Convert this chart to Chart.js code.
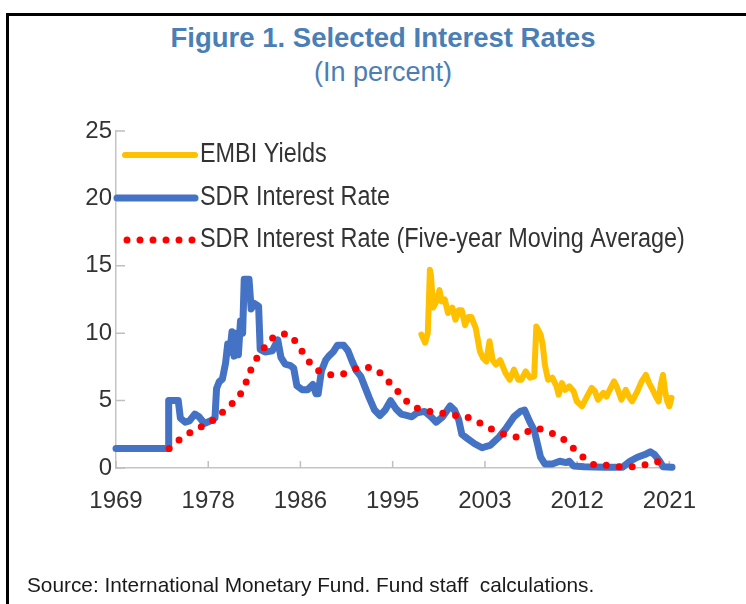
<!DOCTYPE html>
<html>
<head>
<meta charset="utf-8">
<script src="https://cdn.jsdelivr.net/npm/chart.js@4.4.1/dist/chart.umd.min.js"></script>
<style>
  body { margin: 0; background: #fff; width: 746px; height: 604px; overflow: hidden; position: relative; }
  #frame { position: absolute; left: 6px; top: 13px; width: 900px; height: 800px; border-left: 3px solid #000; border-top: 3px solid #000; }
  .txt { position: absolute; white-space: pre; font-family: "Liberation Sans", Arial, sans-serif; line-height: 1; }
  #title { left: 0; width: 766px; text-align: center; top: 24px; font-size: 27.5px; font-weight: bold; color: #4a7eb5; }
  #subtitle { left: 0; width: 766px; text-align: center; top: 59px; font-size: 27px; color: #4a7eb5; }
  #source { left: 27px; top: 575px; font-size: 20.8px; color: #1a1a1a; }
  #chart { position: absolute; left: 0; top: 0; }
</style>
</head>
<body>
<div id="frame"></div>
<div class="txt" id="title">Figure 1. Selected Interest Rates</div>
<div class="txt" id="subtitle">(In percent)</div>
<canvas id="chart" width="746" height="604"></canvas>
<div class="txt" id="source">Source: International Monetary Fund. Fund staff  calculations.</div>
<script>
// axis
const xTickValues = [1969, 1977.67, 1986.33, 1995, 2003.67, 2012.33, 2021];
const xTickLabels = ['1969', '1978', '1986', '1995', '2003', '2012', '2021'];
const yTickValues = [0, 5, 10, 15, 20, 25];

// SDR interest rate (blue)
const sdrYears = [
  1969.0, 1973.9, 1973.95, 1974.85, 1975.05, 1975.5, 1975.9, 1976.4, 1976.8, 1977.3,
  1977.9, 1978.3, 1978.45, 1978.7, 1979.0, 1979.3, 1979.5, 1979.7, 1979.9, 1980.1,
  1980.3, 1980.5, 1980.7, 1980.9, 1981.05, 1981.5, 1981.7, 1982.0, 1982.4, 1982.55,
  1983.0, 1983.7, 1984.2, 1984.5, 1984.9, 1985.4, 1985.7, 1986.0, 1986.5, 1987.0,
  1987.5, 1987.8, 1988.0, 1988.3, 1988.7, 1989.0, 1989.4, 1989.8, 1990.4, 1990.8,
  1991.2, 1991.6, 1992.0, 1992.4, 1992.8, 1993.3, 1993.8, 1994.3, 1994.8, 1995.3,
  1995.8, 1996.3, 1996.8, 1997.3, 1998.0, 1998.6, 1999.1, 1999.7, 2000.4, 2000.8,
  2001.2, 2001.5, 2002.0, 2002.7, 2003.4, 2004.2, 2005.0, 2005.7, 2006.4, 2007.0,
  2007.4, 2007.9, 2008.3, 2008.6, 2008.9, 2009.3, 2010.0, 2010.7, 2011.3, 2011.6,
  2012.0, 2013.0, 2014.0, 2015.0, 2016.0, 2016.6, 2017.3, 2018.0, 2018.7, 2019.2,
  2019.6, 2020.1, 2020.4, 2021.25
];
const sdrRates = [
  1.45, 1.45, 5.0, 5.0, 3.7, 3.4, 3.5, 4.0, 3.8, 3.3,
  3.5, 3.7, 5.9, 6.4, 6.6, 7.8, 9.2, 8.6, 10.1, 8.3,
  10.0, 8.4, 10.9, 10.0, 14.0, 14.0, 11.8, 12.2, 12.0, 8.8,
  8.6, 8.7, 9.5, 8.2, 7.7, 7.6, 7.4, 6.1, 5.8, 5.8,
  6.2, 5.5, 5.5, 7.2, 8.0, 8.3, 8.6, 9.1, 9.1, 8.7,
  7.9, 7.2, 6.8, 6.0, 5.2, 4.3, 3.9, 4.3, 5.0, 4.4,
  4.0, 3.9, 3.8, 4.1, 4.2, 3.8, 3.4, 3.8, 4.6, 4.3,
  3.6, 2.5, 2.2, 1.8, 1.5, 1.7, 2.3, 3.0, 3.8, 4.2,
  4.3, 3.4, 2.8, 1.8, 0.8, 0.3, 0.3, 0.5, 0.4, 0.5,
  0.15, 0.1, 0.08, 0.05, 0.05, 0.05, 0.5, 0.8, 1.0, 1.2,
  1.0, 0.5, 0.1, 0.05
];

// SDR interest rate, five-year moving average (red dots)
const maYears = [
  1974.0, 1974.8, 1975.7, 1976.6, 1977.6, 1978.5, 1979.2, 1980.1, 1980.8, 1981.3,
  1981.7, 1982.2, 1982.9, 1983.6, 1984.6, 1985.5, 1986.1, 1986.8, 1987.4, 1988.3,
  1989.3, 1990.4, 1991.5, 1992.5, 1993.5, 1994.2, 1995.0, 1995.8, 1996.5, 1997.4,
  1998.4, 1999.5, 2000.6, 2001.6, 2002.6, 2003.5, 2004.5, 2005.5, 2006.6, 2007.5,
  2008.6, 2009.6, 2010.7, 2011.5, 2012.3, 2013.1, 2014.0, 2015.1, 2016.3, 2017.4,
  2018.5, 2019.5, 2020.7
];
const maRates = [
  1.44, 2.0, 2.5, 2.9, 3.3, 3.7, 4.3, 4.9, 5.6, 6.5,
  7.35, 8.1, 8.9, 9.6, 10.0, 9.8, 9.1, 8.3, 7.6, 7.05,
  6.9, 7.0, 7.35, 7.5, 7.3, 6.75, 6.1, 5.4, 4.8, 4.4,
  4.2, 4.1, 3.9, 3.9, 3.6, 3.2, 2.8, 2.5, 2.3, 2.65,
  2.95, 2.7, 2.35, 1.87, 1.2, 0.68, 0.2, 0.2, 0.09, 0.09,
  0.2, 0.43, 0.55
];

// EMBI yields (yellow)
const embiYears = [
  1997.7, 1998.05, 1998.3, 1998.5, 1998.6, 1998.8, 1999.1, 1999.4, 1999.6, 1999.9,
  2000.2, 2000.6, 2000.9, 2001.2, 2001.5, 2001.8, 2002.1, 2002.4, 2002.8, 2003.2,
  2003.5, 2003.8, 2004.1, 2004.4, 2004.7, 2005.1, 2005.6, 2006.0, 2006.4, 2006.8,
  2007.1, 2007.5, 2007.9, 2008.3, 2008.5, 2008.9, 2009.1, 2009.3, 2009.6, 2010.0,
  2010.4, 2010.6, 2010.9, 2011.2, 2011.6, 2012.0, 2012.3, 2012.8, 2013.2, 2013.7,
  2014.0, 2014.3, 2014.8, 2015.1, 2015.4, 2015.8, 2016.1, 2016.5, 2016.9, 2017.2,
  2017.5, 2018.0, 2018.4, 2018.8, 2019.1, 2019.5, 2019.8, 2020.0, 2020.2, 2020.4,
  2020.6, 2020.8, 2021.0, 2021.2
];
const embiYields = [
  9.9, 9.3, 10.0, 14.7, 14.3, 11.9, 12.35, 13.2, 12.35, 12.5,
  11.5, 11.9, 11.0, 11.7, 11.7, 10.6, 11.2, 11.2, 10.4, 8.65,
  8.15, 7.9, 9.4, 8.0, 7.67, 8.0, 7.05, 6.55, 7.3, 6.55,
  6.55, 7.17, 6.7, 6.8, 10.5, 9.9, 9.15, 7.67, 6.55, 6.7,
  6.06, 5.44, 6.3, 5.8, 6.06, 5.7, 4.95, 4.58, 5.2, 5.94,
  5.7, 5.07, 5.57, 5.3, 5.8, 6.43, 5.94, 5.07, 5.8, 5.3,
  4.95, 5.7, 6.43, 6.9, 6.3, 5.7, 5.2, 4.95, 6.2, 6.9,
  5.7, 4.95, 4.58, 5.2
];

const FONT = '"Liberation Sans", Arial, sans-serif';
const toPoints = (xs, ys) => xs.map((x, i) => ({ x: x, y: ys[i] }));

// small tick marks drawn inside the plot, like Excel
const insideTicks = {
  id: 'insideTicks',
  beforeDatasetsDraw(chart) {
    const { ctx, chartArea: a, scales: { x, y } } = chart;
    ctx.save();
    ctx.strokeStyle = '#bfbfbf';
    ctx.lineWidth = 1.5;
    ctx.beginPath();
    yTickValues.forEach(v => {
      const py = y.getPixelForValue(v);
      ctx.moveTo(a.left, py);
      ctx.lineTo(a.left + 9, py);
    });
    xTickValues.forEach(v => {
      const px = x.getPixelForValue(v);
      ctx.moveTo(px, a.bottom);
      ctx.lineTo(px, a.bottom - 7);
    });
    ctx.stroke();
    ctx.restore();
  }
};

// legend inside the plot area, top left
const insideLegend = {
  id: 'insideLegend',
  afterDatasetsDraw(chart) {
    const { ctx, chartArea: a } = chart;
    const order = [2, 1, 0];
    const rows = [24, 67, 109];
    ctx.save();
    order.forEach((di, r) => {
      const ds = chart.data.datasets[di];
      const yy = a.top + rows[r];
      ctx.beginPath();
      ctx.strokeStyle = ds.borderColor;
      ctx.lineWidth = ds.borderWidth;
      ctx.lineCap = ds.borderCapStyle || 'butt';
      ctx.setLineDash(ds.borderDash || []);
      ctx.moveTo(a.left + (ds.borderDash ? 11 : (di === 1 ? 1 : 9)), yy);
      ctx.lineTo(a.left + 79, yy);
      ctx.stroke();
      ctx.setLineDash([]);
      // narrow the text a bit, the original font is condensed
      ctx.save();
      ctx.translate(a.left + 84, yy);
      ctx.scale(0.867, 1);
      ctx.fillStyle = '#333';
      ctx.font = '27px ' + FONT;
      ctx.textBaseline = 'middle';
      ctx.fillText(ds.label, 0, 0);
      ctx.restore();
    });
    ctx.restore();
  }
};

new Chart(document.getElementById('chart'), {
  type: 'line',
  data: {
    datasets: [
      {
        label: 'SDR Interest Rate (Five-year Moving Average)',
        data: toPoints(maYears, maRates),
        borderColor: '#ff0000',
        borderWidth: 7,
        borderDash: [0, 13],
        borderCapStyle: 'round',
        pointRadius: 0,
        clip: false
      },
      {
        label: 'SDR Interest Rate',
        data: toPoints(sdrYears, sdrRates),
        borderColor: '#4472c4',
        borderWidth: 7,
        borderJoinStyle: 'round',
        borderCapStyle: 'round',
        pointRadius: 0,
        clip: false
      },
      {
        label: 'EMBI Yields',
        data: toPoints(embiYears, embiYields),
        borderColor: '#ffc000',
        borderWidth: 6,
        borderJoinStyle: 'round',
        borderCapStyle: 'round',
        pointRadius: 0,
        clip: false
      }
    ]
  },
  options: {
    responsive: false,
    animation: false,
    devicePixelRatio: 1,
    layout: { padding: { left: 56, top: 131, right: 74, bottom: 76 } },
    plugins: { legend: { display: false }, tooltip: { enabled: false } },
    scales: {
      x: {
        type: 'linear',
        min: 1969,
        max: 2021.25,
        afterBuildTicks: (scale) => { scale.ticks = xTickValues.map(v => ({ value: v })); },
        afterFit: (scale) => { scale.height = 60; },
        grid: { display: false, drawTicks: false },
        border: { display: true, color: '#c4c4c4', width: 1.5 },
        ticks: {
          autoSkip: false,
          maxRotation: 0,
          padding: 19,
          color: '#333',
          font: { family: FONT, size: 24 },
          callback: (v, i) => xTickLabels[i]
        }
      },
      y: {
        min: 0,
        max: 25,
        afterBuildTicks: (scale) => { scale.ticks = yTickValues.map(v => ({ value: v })); },
        afterFit: (scale) => { scale.width = 60; },
        grid: { display: false, drawTicks: false },
        border: { display: true, color: '#c4c4c4', width: 1.5 },
        ticks: {
          padding: 4,
          color: '#333',
          font: { family: FONT, size: 24 }
        }
      }
    }
  },
  plugins: [insideTicks, insideLegend]
});
</script>
</body>
</html>
